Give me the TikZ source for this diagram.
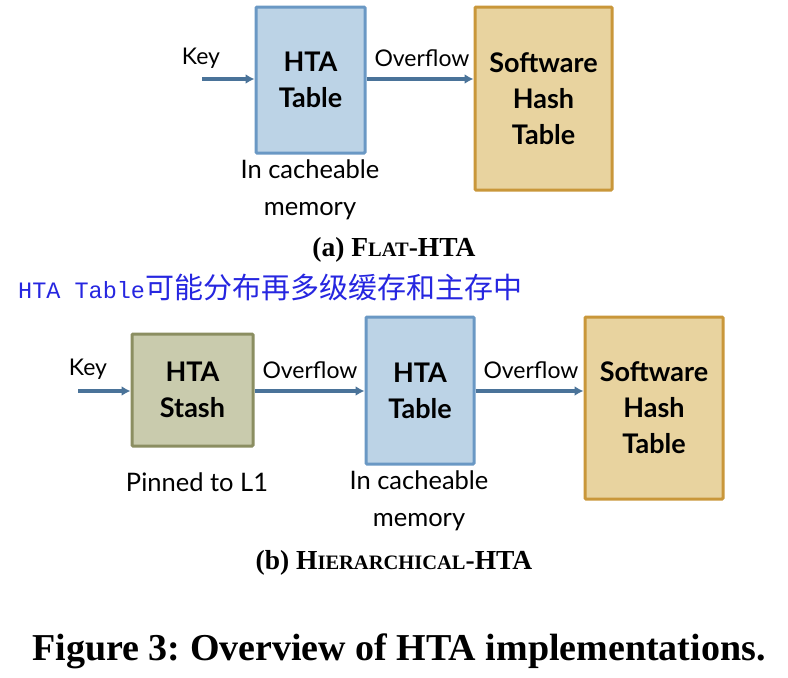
\documentclass[tikz,border=0pt]{standalone}
\usepackage{fontspec}
\setmainfont{Lato}
\newfontfamily\capfont{Liberation Serif}
\newfontfamily\cjkfont{Noto Sans CJK SC}
\newfontfamily\monofont{Liberation Mono}
\usetikzlibrary{arrows.meta}
\definecolor{bluefill}{HTML}{BCD3E6}
\definecolor{blueline}{HTML}{6A98C4}
\definecolor{tanfill}{HTML}{E8D39F}
\definecolor{tanline}{HTML}{C9973A}
\definecolor{olivefill}{HTML}{C9CBAD}
\definecolor{oliveline}{HTML}{8B8E61}
\definecolor{arrowcol}{HTML}{4A7399}
\definecolor{notecol}{HTML}{2626E0}
\tikzset{
  boxnode/.style={draw, line width=3pt, rounded corners=1pt, align=center, inner sep=0pt,
    font=\fontsize{27}{36}\selectfont\bfseries},
  bluebox/.style={boxnode, fill=bluefill, draw=blueline},
  tanbox/.style={boxnode, fill=tanfill, draw=tanline},
  olivebox/.style={boxnode, fill=olivefill, draw=oliveline},
  flow/.style={draw=arrowcol, line width=3.5pt, -{Latex[length=9pt,width=10pt]}},
  lbl/.style={font=\fontsize{23}{37}\selectfont, align=center, inner sep=0pt},
  biglbl/.style={font=\fontsize{25.5}{37}\selectfont, align=center, inner sep=0pt},
  subcap/.style={font=\capfont\fontsize{27.5}{30}\selectfont\bfseries, inner sep=0pt},
}
\newcommand{\fsc}[1]{{\fontsize{20.5}{24}\selectfont #1}}
\begin{document}
\frenchspacing
\begin{tikzpicture}[x=1pt,y=-1pt]
\useasboundingbox (0,0) rectangle (788,678);
% (a)
\node[bluebox, minimum width=109pt, minimum height=146pt] (ta) at (310.5,80) {HTA\\Table};
\node[tanbox, minimum width=137pt, minimum height=183pt] (sa) at (543.5,98.5) {Software\\Hash\\Table};
\coordinate (ka) at (202,79);
\draw[flow] (ka) -- (ka -| ta.west);
\draw[flow] (ka -| ta.east) -- (ka -| sa.west);
\node[lbl] (keya) at (201,58) {Key};
\node[lbl] (ova) at (422,58) {Overflow};
\node[biglbl] (cma) at (310,190) {In cacheable\\memory};
\node[subcap] (capa) at (394,250) {(a) F\fsc{LAT}-HTA};
\node[inner sep=0pt, anchor=west, text=notecol] (note) at (18,287)
  {\monofont\fontsize{23.5}{28}\selectfont HTA Table\cjkfont\fontsize{29}{30}\selectfont 可能分布再多级缓存和主存中};
% (b)
\node[olivebox, minimum width=121pt, minimum height=112pt] (sb) at (192.5,390) {HTA\\Stash};
\node[bluebox, minimum width=108pt, minimum height=147pt] (tb) at (420,390.5) {HTA\\Table};
\node[tanbox, minimum width=138pt, minimum height=182pt] (hb) at (654,408) {Software\\Hash\\Table};
\coordinate (kb) at (78,391);
\draw[flow] (kb) -- (kb -| sb.west);
\draw[flow] (kb -| sb.east) -- (kb -| tb.west);
\draw[flow] (kb -| tb.east) -- (kb -| hb.west);
\node[lbl] (keyb) at (88,369) {Key};
\node[lbl] (ovb1) at (310,370) {Overflow};
\node[lbl] (ovb2) at (531,370) {Overflow};
\node[biglbl] (pin) at (197,482) {Pinned to L1};
\node[biglbl] (cmb) at (419,501) {In cacheable\\memory};
\node[subcap] (capb) at (394,563) {(b) H\fsc{IERARCHICAL}-HTA};
\node[inner sep=0pt, font=\capfont\fontsize{38}{42}\selectfont\bfseries] (fig) at (399,651) {Figure 3: Overview of HTA implementations.};
\end{tikzpicture}
\end{document}
